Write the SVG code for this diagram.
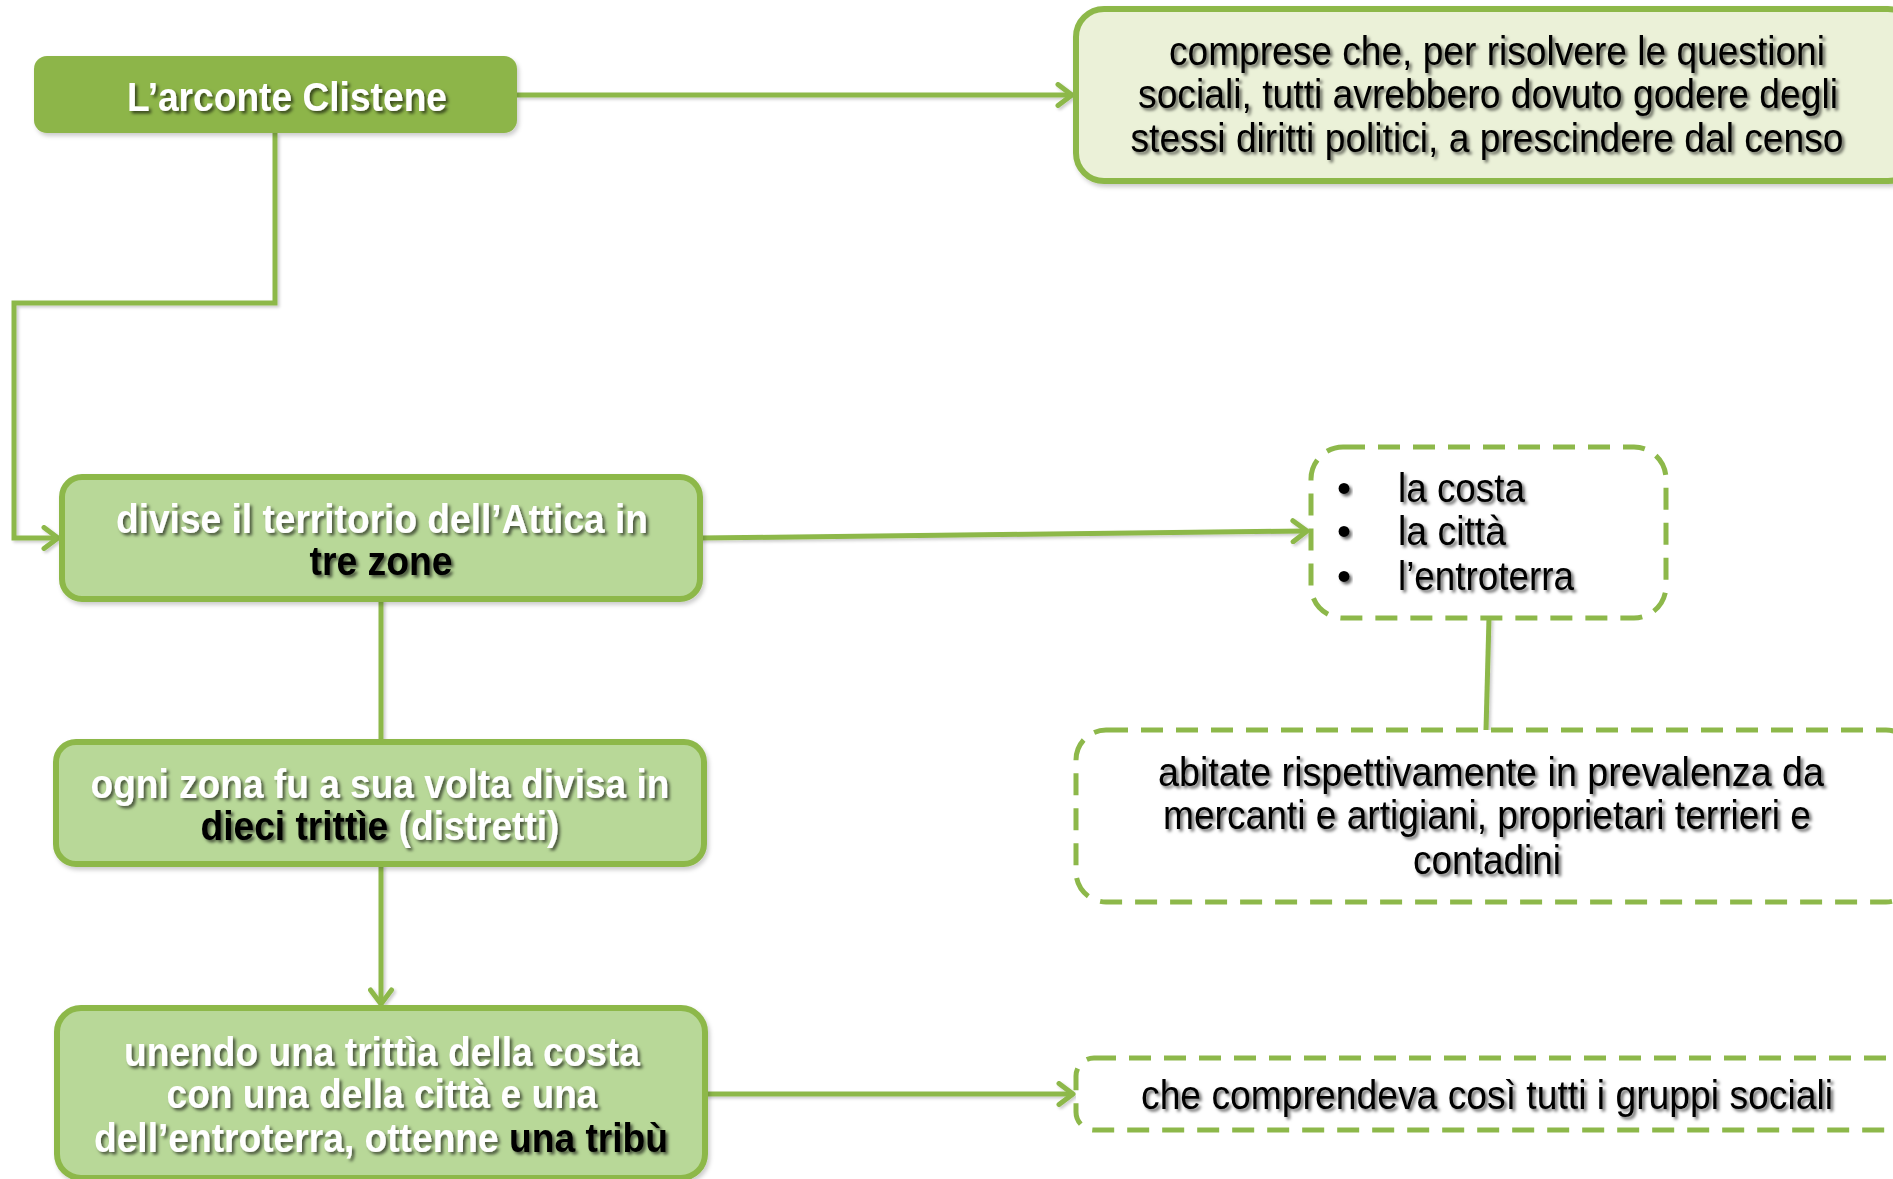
<svg xmlns="http://www.w3.org/2000/svg" width="1893" height="1179" viewBox="0 0 1893 1179">
  <defs>
    <filter id="txtShadow" x="-10%" y="-30%" width="120%" height="160%">
      <feDropShadow dx="2.5" dy="2.5" stdDeviation="1.5" flood-color="#000" flood-opacity="0.6"/>
    </filter>
    <filter id="boxShadow" x="-5%" y="-10%" width="110%" height="125%">
      <feDropShadow dx="2" dy="3" stdDeviation="2" flood-color="#000" flood-opacity="0.2"/>
    </filter>
    <!-- shadow for connectors: user-space region so straight lines keep rendering -->
    <filter id="lineShadow" filterUnits="userSpaceOnUse" x="0" y="0" width="1893" height="1179">
      <feDropShadow dx="2" dy="2" stdDeviation="1.5" flood-color="#000" flood-opacity="0.2"/>
    </filter>
    <marker id="arrow" viewBox="0 0 20 26" refX="17" refY="13" markerWidth="20" markerHeight="26" markerUnits="userSpaceOnUse" orient="auto">
      <path d="M3,2.5 L17,13 L3,23.5" fill="none" stroke="#8DB84A" stroke-width="5" stroke-linecap="round" stroke-linejoin="round"/>
    </marker>
  </defs>
  <style>
    .t { font-family: "Liberation Sans Narrow", "Liberation Sans", Arial, sans-serif; font-size: 40px; filter: url(#txtShadow); }
    .b { font-weight: bold; }
    .w { fill: #ffffff; }
    .k { fill: #000000; }
    .solid { fill: #B8D898; stroke: #8DB84A; stroke-width: 6; filter: url(#boxShadow); }
    .pale { fill: #EBF1D8; stroke: #8DB84A; stroke-width: 6; filter: url(#boxShadow); }
    .dash { fill: #ffffff; stroke: #8DB84A; stroke-width: 5; stroke-dasharray: 22 13; }
    .conn { fill: none; stroke: #8DB84A; stroke-width: 5; filter: url(#lineShadow); }
  </style>
  <rect width="1893" height="1179" fill="#ffffff"/>

  <!-- connectors -->
  <g id="connectors">
    <path class="conn" d="M517,95 H1072" marker-end="url(#arrow)"/>
    <path class="conn" d="M275,133 V303 H14 V538 H58" marker-end="url(#arrow)"/>
    <path class="conn" d="M700,538 L1307,531" marker-end="url(#arrow)"/>
    <path class="conn" d="M1489,618 L1486,730"/>
    <path class="conn" d="M381,599 V742"/>
    <path class="conn" d="M381,864 V1004" marker-end="url(#arrow)"/>
    <path class="conn" d="M705,1094 H1073" marker-end="url(#arrow)"/>
  </g>

  <!-- L'arconte Clistene -->
  <g id="node-clistene">
    <rect x="34" y="56" width="483" height="77" rx="13" fill="#8DB548" filter="url(#boxShadow)"/>
    <text class="t b w" x="287" y="111" text-anchor="middle" textLength="320" lengthAdjust="spacingAndGlyphs">L’arconte Clistene</text>
  </g>

  <!-- comprese che ... -->
  <g id="node-comprese">
    <rect class="pale" x="1076" y="9" width="840" height="172" rx="28"/>
    <text class="t k" x="1497" y="65" text-anchor="middle" textLength="656" lengthAdjust="spacingAndGlyphs">comprese che, per risolvere le questioni</text>
    <text class="t k" x="1488" y="108" text-anchor="middle" textLength="700" lengthAdjust="spacingAndGlyphs">sociali, tutti avrebbero dovuto godere degli</text>
    <text class="t k" x="1487" y="152" text-anchor="middle" textLength="713" lengthAdjust="spacingAndGlyphs">stessi diritti politici, a prescindere dal censo</text>
  </g>

  <!-- divise il territorio -->
  <g id="node-territorio">
    <rect class="solid" x="62" y="477" width="638" height="122" rx="20"/>
    <text class="t b w" x="382" y="533" text-anchor="middle" textLength="532" lengthAdjust="spacingAndGlyphs">divise il territorio dell’Attica in</text>
    <text class="t b k" x="381" y="575" text-anchor="middle" textLength="143" lengthAdjust="spacingAndGlyphs">tre zone</text>
  </g>

  <!-- le tre zone -->
  <g id="node-zone">
    <rect class="dash" x="1311" y="447" width="355" height="171" rx="32"/>
    <text class="t k" x="1344" y="502" text-anchor="middle">•</text>
    <text class="t k" x="1344" y="545" text-anchor="middle">•</text>
    <text class="t k" x="1344" y="590" text-anchor="middle">•</text>
    <text class="t k" x="1398" y="502" textLength="127" lengthAdjust="spacingAndGlyphs">la costa</text>
    <text class="t k" x="1398" y="545" textLength="108" lengthAdjust="spacingAndGlyphs">la città</text>
    <text class="t k" x="1398" y="590" textLength="176" lengthAdjust="spacingAndGlyphs">l’entroterra</text>
  </g>

  <!-- abitate rispettivamente -->
  <g id="node-abitate">
    <rect class="dash" x="1076" y="730" width="840" height="172" rx="30"/>
    <text class="t k" x="1491" y="786" text-anchor="middle" textLength="666" lengthAdjust="spacingAndGlyphs">abitate rispettivamente in prevalenza da</text>
    <text class="t k" x="1487" y="829" text-anchor="middle" textLength="648" lengthAdjust="spacingAndGlyphs">mercanti e artigiani, proprietari terrieri e</text>
    <text class="t k" x="1487" y="874" text-anchor="middle" textLength="148" lengthAdjust="spacingAndGlyphs">contadini</text>
  </g>

  <!-- ogni zona -->
  <g id="node-trittie">
    <rect class="solid" x="56" y="742" width="648" height="122" rx="20"/>
    <text class="t b w" x="380" y="798" text-anchor="middle" textLength="579" lengthAdjust="spacingAndGlyphs">ogni zona fu a sua volta divisa in</text>
    <text class="t b" x="380" y="840" text-anchor="middle" textLength="359" lengthAdjust="spacingAndGlyphs"><tspan class="k">dieci trittìe</tspan><tspan class="w"> (distretti)</tspan></text>
  </g>

  <!-- unendo una trittìa -->
  <g id="node-tribu">
    <rect class="solid" x="57" y="1008" width="648" height="170" rx="24"/>
    <text class="t b w" x="382" y="1066" text-anchor="middle" textLength="516" lengthAdjust="spacingAndGlyphs">unendo una trittìa della costa</text>
    <text class="t b w" x="382" y="1108" text-anchor="middle" textLength="431" lengthAdjust="spacingAndGlyphs">con una della città e una</text>
    <text class="t b" x="381" y="1152" text-anchor="middle" textLength="574" lengthAdjust="spacingAndGlyphs"><tspan class="w">dell’entroterra, ottenne </tspan><tspan class="k">una tribù</tspan></text>
  </g>

  <!-- che comprendeva -->
  <g id="node-gruppi">
    <rect class="dash" x="1076" y="1058" width="840" height="72" rx="18"/>
    <text class="t k" x="1487" y="1109" text-anchor="middle" textLength="692" lengthAdjust="spacingAndGlyphs">che comprendeva così tutti i gruppi sociali</text>
  </g>
</svg>
